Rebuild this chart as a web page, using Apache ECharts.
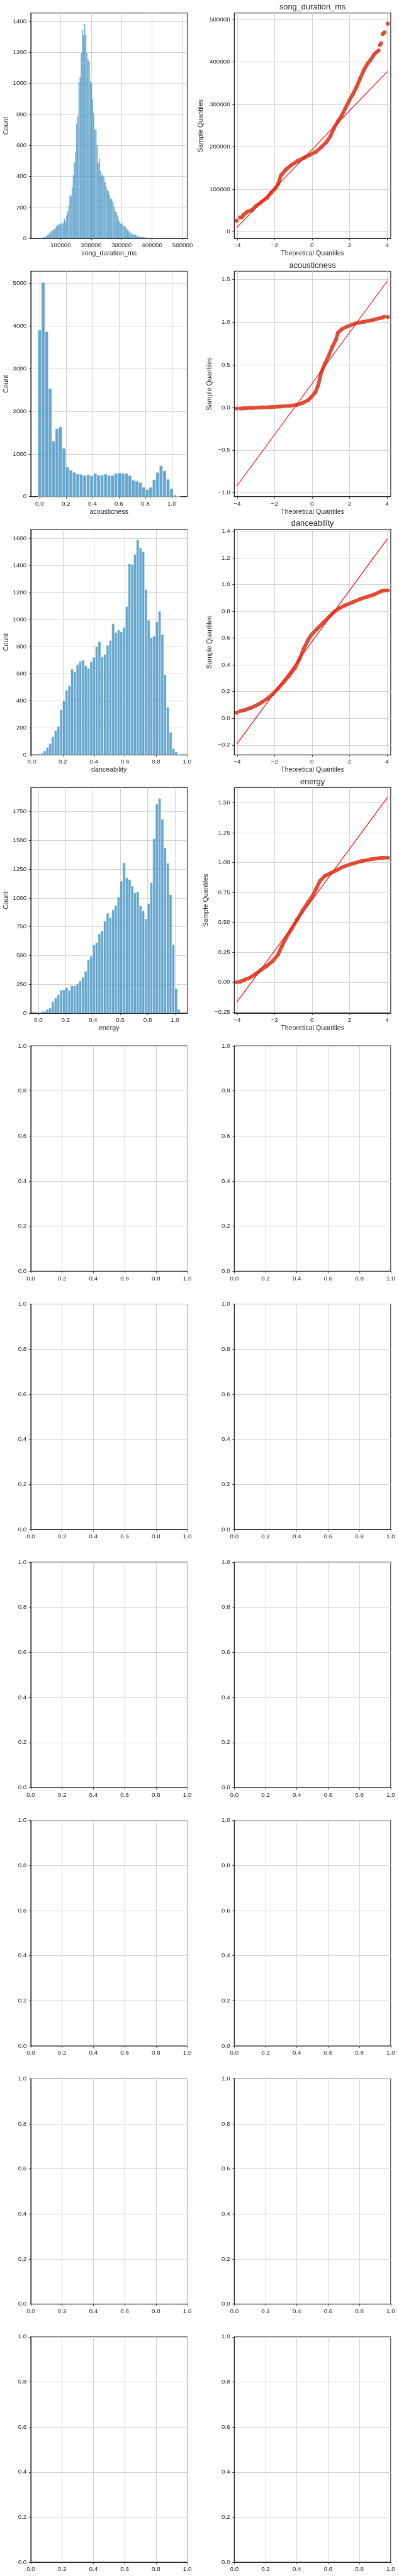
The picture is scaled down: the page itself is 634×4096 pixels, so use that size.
<!DOCTYPE html>
<html>
<head>
<meta charset="utf-8">
<script src="https://cdn.jsdelivr.net/npm/echarts@6/dist/echarts.min.js"></script>
<style>
html,body{margin:0;padding:0;background:#ffffff;}
#chart{width:634px;height:4096px;}
</style>
</head>
<body>
<div id="chart"></div>
<script>
// ---------------- DATA ----------------
const features = ['song_duration_ms', 'acousticness', 'danceability', 'energy'];

// Histogram counts and the data range covered by the bins
const songCounts = [3,2,4,5,6,8,14,11,22,27,32,45,48,58,58,68,78,85,92,92,92,105,96,128,112,150,175,212,280,272,330,410,490,560,740,790,1010,1040,1195,1345,1310,1384,1315,1195,1155,1140,1015,1000,900,810,705,700,600,485,515,435,405,413,400,365,335,313,305,280,256,256,238,205,175,168,150,120,106,94,100,88,82,75,66,55,48,40,34,28,29,22,25,19,15,12,10,12,8,10,7,5,6,4,5,3,4,2,3,2,1,2,3,1,2,1,0,1,1,0,0,1,0,1,0,0,0,1,0,0,0,1];
const songBinRange = [25000, 492000];

const acousticCounts = [3901,5018,3866,2535,1305,1594,1633,1134,696,626,569,530,521,495,517,490,543,503,503,530,495,495,543,556,543,543,495,390,363,333,219,166,219,398,569,727,604,407,188,35,9];
const acousticBinRange = [-0.0127, 1.0636];

const danceCounts = [7,11,30,55,84,134,180,209,332,399,478,510,634,615,667,692,700,659,640,688,721,800,837,725,743,810,846,970,905,924,908,942,1096,1413,1407,1482,1589,1530,1502,1223,995,868,879,984,1061,891,593,352,166,48,21,4];
const danceBinRange = [0.04, 0.955];

const energyCounts = [3,11,16,32,44,100,130,159,198,203,222,198,237,237,253,279,313,363,465,495,592,613,689,714,798,868,827,897,937,1009,1147,1307,1176,1161,1103,1044,1054,933,889,819,952,1133,1516,1816,1865,1685,1437,1302,1028,595,212,32];
const energyBinRange = [-0.003, 1.038];

// QQ plots: dense band of points + separated tail points + fitted reference line
const songBandTheo   = [-3.68,-3.62,-3.45,-3.2,-3.0,-2.7,-2.4,-2.2,-1.96,-1.81,-1.66,-1.41,-1.11,-0.76,-0.41,-0.11,0.18,0.48,0.78,0.98,1.18,1.38,1.58,1.78,1.98,2.18,2.38,2.57,2.77,2.97,3.12,3.27,3.40,3.55];
const songBandSample = [39000,41700,47500,51800,60600,70700,80400,91400,102400,113400,133100,146300,157300,167400,174900,181500,188000,199000,212200,225400,245200,260500,273700,291300,308900,324300,341800,361600,381400,396700,405000,415000,422000,427000];
const songTailTheo   = [-4.02,-3.85,-3.75,3.63,3.68,3.77,3.82,3.87,4.04];
const songTailSample = [26400,34300,34300,440000,444000,466000,468000,470000,490300];
const songFitTheo    = [-4.02, 4.02];
const songFitSample  = [10100, 377900];

const acousticBandTheo   = [-3.7,-3.6,-3.2,-2.7,-2.2,-1.71,-1.21,-0.81,-0.51,-0.21,-0.01,0.18,0.33,0.48,0.68,0.88,1.08,1.28,1.38,1.58,1.88,2.28,2.77,3.27,3.67,3.75];
const acousticBandSample = [-0.011,-0.009,-0.005,0.0,0.004,0.011,0.019,0.03,0.052,0.085,0.129,0.179,0.26,0.402,0.511,0.599,0.708,0.796,0.872,0.915,0.948,0.981,1.003,1.025,1.047,1.052];
const acousticTailTheo   = [-4.02,-3.82,3.85,4.04];
const acousticTailSample = [-0.013,-0.013,1.062,1.058];
const acousticFitTheo    = [-4.02, 4.02];
const acousticFitSample  = [-0.921, 1.480];

const danceBandTheo   = [-3.85,-3.6,-3.3,-3.0,-2.7,-2.4,-2.1,-1.81,-1.51,-1.21,-0.91,-0.66,-0.46,-0.21,-0.01,0.28,0.58,0.88,1.18,1.48,1.78,2.18,2.57,2.97,3.37,3.67,3.8];
const danceBandSample = [0.054,0.062,0.077,0.095,0.119,0.146,0.182,0.223,0.272,0.321,0.377,0.447,0.517,0.587,0.629,0.671,0.713,0.755,0.797,0.825,0.846,0.869,0.892,0.911,0.929,0.950,0.955];
const danceTailTheo   = [-4.02,3.88,4.04];
const danceTailSample = [0.042,0.957,0.957];
const danceFitTheo    = [-4.02, 4.02];
const danceFitSample  = [-0.192, 1.342];

const energyBandTheo   = [-3.85,-3.6,-3.3,-3.0,-2.7,-2.4,-2.1,-1.81,-1.61,-1.41,-1.11,-0.81,-0.51,-0.21,0.03,0.23,0.43,0.68,0.98,1.28,1.68,2.18,2.67,3.17,3.67,3.85];
const energyBandSample = [0.004,0.02,0.039,0.07,0.106,0.138,0.177,0.231,0.302,0.364,0.442,0.52,0.598,0.669,0.723,0.786,0.848,0.888,0.911,0.934,0.966,0.992,1.013,1.028,1.039,1.040];
const energyTailTheo   = [-4.02,4.04];
const energyTailSample = [0.0,1.041];
const energyFitTheo    = [-4.02, 4.02];
const energyFitSample  = [-0.167, 1.544];

// Axis ranges
const songHistXRange = [2000, 515400],   songHistYRange = [0, 1454];
const acousticHistXRange = [-0.0665, 1.1174], acousticHistYRange = [0, 5280];
const danceHistXRange = [-0.0057, 1.0008], danceHistYRange = [0, 1666];
const energyHistXRange = [-0.0546, 1.090], energyHistYRange = [0, 1959];
const qqXRange = [-4.15, 4.2];
const songQQYRange = [-15400, 515400];
const acousticQQYRange = [-1.044, 1.594];
const danceQQYRange = [-0.2727, 1.4126];
const energyQQYRange = [-0.2578, 1.6266];
const emptyRange = [0, 1];

// Tick values and tick labels
const songHistXTicks = [100000, 200000, 300000, 400000, 500000];
const songHistXLabels = ['100000', '200000', '300000', '400000', '500000'];
const songHistYTicks = [0, 200, 400, 600, 800, 1000, 1200, 1400];
const songHistYLabels = ['0', '200', '400', '600', '800', '1000', '1200', '1400'];
const unitTicks = [0, 0.2, 0.4, 0.6, 0.8, 1.0];
const unitLabels = ['0.0', '0.2', '0.4', '0.6', '0.8', '1.0'];
const acousticHistYTicks = [0, 1000, 2000, 3000, 4000, 5000];
const acousticHistYLabels = ['0', '1000', '2000', '3000', '4000', '5000'];
const danceHistYTicks = [0, 200, 400, 600, 800, 1000, 1200, 1400, 1600];
const danceHistYLabels = ['0', '200', '400', '600', '800', '1000', '1200', '1400', '1600'];
const energyHistYTicks = [0, 250, 500, 750, 1000, 1250, 1500, 1750];
const energyHistYLabels = ['0', '250', '500', '750', '1000', '1250', '1500', '1750'];
const qqXTicks = [-4, -2, 0, 2, 4];
const qqXLabels = ['\u22124', '\u22122', '0', '2', '4'];
const songQQYTicks = [0, 100000, 200000, 300000, 400000, 500000];
const songQQYLabels = ['0', '100000', '200000', '300000', '400000', '500000'];
const acousticQQYTicks = [-1.0, -0.5, 0, 0.5, 1.0, 1.5];
const acousticQQYLabels = ['\u22121.0', '\u22120.5', '0.0', '0.5', '1.0', '1.5'];
const danceQQYTicks = [-0.2, 0, 0.2, 0.4, 0.6, 0.8, 1.0, 1.2, 1.4];
const danceQQYLabels = ['\u22120.2', '0.0', '0.2', '0.4', '0.6', '0.8', '1.0', '1.2', '1.4'];
const energyQQYTicks = [-0.25, 0, 0.25, 0.5, 0.75, 1.0, 1.25, 1.5];
const energyQQYLabels = ['\u22120.25', '0.00', '0.25', '0.50', '0.75', '1.00', '1.25', '1.50'];

// ---------------- STYLE / LAYOUT ----------------
const S = 0.89;
const FONT = '"Liberation Sans", Arial, Helvetica, sans-serif';
const INK = '#262626';
const GRID_C = '#cccccc';
const BAR_FILL = 'rgba(52,138,189,0.75)';
const QQ_C = '#E24A33';
const FIT_C = '#ff0000';

const colX = [55 * S, 418.3 * S];
const colW = 279.3 * S;
const rowH = 402.7 * S;
function rowY(i) { return (23.3 + 461.3 * i) * S; }

function labelFor(ticks, labels) {
  return function (v) {
    let best = 0, bd = Infinity;
    for (let i = 0; i < ticks.length; i++) {
      const d = Math.abs(ticks[i] - v);
      if (d < bd) { bd = d; best = i; }
    }
    return labels[best];
  };
}

function axis(kind, gridIndex, range, ticks, labels, interval, extra) {
  const isX = kind === 'x';
  const a = {
    type: 'value',
    gridIndex: gridIndex,
    min: range[0],
    max: range[1],
    minInterval: interval,
    maxInterval: interval,
    splitNumber: Math.max(1, Math.round((range[1] - range[0]) / interval)),
    axisLine: { show: true, onZero: false, lineStyle: { color: INK, width: 1.25 * S } },
    axisTick: { show: true, customValues: ticks, length: 3.5 * S, lineStyle: { color: INK, width: 1 * S } },
    axisLabel: {
      show: true, customValues: ticks, formatter: labelFor(ticks, labels),
      color: INK, fontSize: 11 * S, fontFamily: FONT, margin: isX ? 6.5 : 6.7
    },
    splitLine: { show: true, lineStyle: { color: GRID_C, width: 1 * S } },
    nameTextStyle: { color: INK, fontSize: 12 * S, fontFamily: FONT },
    silent: true
  };
  return Object.assign(a, extra || {});
}

const grids = [], xAxes = [], yAxes = [], series = [], titles = [];

function addGrid(row, col) {
  grids.push({
    left: colX[col], top: rowY(row), width: colW, height: rowH,
    show: true, borderColor: INK, borderWidth: 1.25 * S, backgroundColor: 'transparent'
  });
  return grids.length - 1;
}

function histData(counts, range) {
  const w = (range[1] - range[0]) / counts.length;
  return counts.map((c, i) => [range[0] + i * w, range[0] + (i + 1) * w, c]);
}

function barRenderer(strokeW, strokeC) {
  return function (params, api) {
    const p0 = api.coord([api.value(0), 0]);
    const p1 = api.coord([api.value(1), api.value(2)]);
    return {
      type: 'rect',
      shape: { x: p0[0], y: p1[1], width: p1[0] - p0[0], height: p0[1] - p1[1] },
      style: { fill: BAR_FILL, stroke: strokeC, lineWidth: strokeW }
    };
  };
}

function zip(a, b) { return a.map((v, i) => [v, b[i]]); }

const histSpecs = [
  { counts: songCounts, bins: songBinRange, xr: songHistXRange, yr: songHistYRange,
    xt: songHistXTicks, xl: songHistXLabels, xi: 100000, yt: songHistYTicks, yl: songHistYLabels, yi: 200,
    stroke: 0.3, strokeC: 'rgba(255,255,255,0.45)' },
  { counts: acousticCounts, bins: acousticBinRange, xr: acousticHistXRange, yr: acousticHistYRange,
    xt: unitTicks, xl: unitLabels, xi: 0.2, yt: acousticHistYTicks, yl: acousticHistYLabels, yi: 1000,
    stroke: 0.9, strokeC: 'rgba(255,255,255,0.7)' },
  { counts: danceCounts, bins: danceBinRange, xr: danceHistXRange, yr: danceHistYRange,
    xt: unitTicks, xl: unitLabels, xi: 0.2, yt: danceHistYTicks, yl: danceHistYLabels, yi: 200,
    stroke: 0.8, strokeC: 'rgba(255,255,255,0.7)' },
  { counts: energyCounts, bins: energyBinRange, xr: energyHistXRange, yr: energyHistYRange,
    xt: unitTicks, xl: unitLabels, xi: 0.2, yt: energyHistYTicks, yl: energyHistYLabels, yi: 250,
    stroke: 0.8, strokeC: 'rgba(255,255,255,0.7)' }
];

const qqSpecs = [
  { bandX: songBandTheo, bandY: songBandSample, tailX: songTailTheo, tailY: songTailSample,
    fitX: songFitTheo, fitY: songFitSample, yr: songQQYRange, yt: songQQYTicks, yl: songQQYLabels, yi: 100000, gap: 47.5 },
  { bandX: acousticBandTheo, bandY: acousticBandSample, tailX: acousticTailTheo, tailY: acousticTailSample,
    fitX: acousticFitTheo, fitY: acousticFitSample, yr: acousticQQYRange, yt: acousticQQYTicks, yl: acousticQQYLabels, yi: 0.5, gap: 33.5 },
  { bandX: danceBandTheo, bandY: danceBandSample, tailX: danceTailTheo, tailY: danceTailSample,
    fitX: danceFitTheo, fitY: danceFitSample, yr: danceQQYRange, yt: danceQQYTicks, yl: danceQQYLabels, yi: 0.2, gap: 33.5 },
  { bandX: energyBandTheo, bandY: energyBandSample, tailX: energyTailTheo, tailY: energyTailSample,
    fitX: energyFitTheo, fitY: energyFitSample, yr: energyQQYRange, yt: energyQQYTicks, yl: energyQQYLabels, yi: 0.25, gap: 39.5 }
];

for (let r = 0; r < 4; r++) {
  // histogram
  const h = histSpecs[r];
  const gi = addGrid(r, 0);
  xAxes.push(axis('x', gi, h.xr, h.xt, h.xl, h.xi, { name: features[r], nameLocation: 'middle', nameGap: 18.4 }));
  yAxes.push(axis('y', gi, h.yr, h.yt, h.yl, h.yi, { name: 'Count', nameLocation: 'middle', nameGap: 33 }));
  series.push({
    type: 'custom', xAxisIndex: gi, yAxisIndex: gi,
    dimensions: ['x0', 'x1', 'count'], encode: { x: [0, 1], y: 2 },
    renderItem: barRenderer(h.stroke, h.strokeC), data: histData(h.counts, h.bins), clip: true, silent: true
  });

  // QQ plot
  const q = qqSpecs[r];
  const gj = addGrid(r, 1);
  xAxes.push(axis('x', gj, qqXRange, qqXTicks, qqXLabels, 2, { name: 'Theoretical Quantiles', nameLocation: 'middle', nameGap: 18.4 }));
  yAxes.push(axis('y', gj, q.yr, q.yt, q.yl, q.yi, { name: 'Sample Quantiles', nameLocation: 'middle', nameGap: q.gap }));
  series.push({
    type: 'line', xAxisIndex: gj, yAxisIndex: gj, data: zip(q.bandX, q.bandY),
    symbol: 'none', smooth: false, silent: true,
    lineStyle: { color: QQ_C, width: 6.4 * S, cap: 'round', join: 'round' }
  });
  series.push({
    type: 'scatter', xAxisIndex: gj, yAxisIndex: gj, data: zip(q.tailX, q.tailY).concat(zip(q.bandX, q.bandY)),
    symbol: 'circle', symbolSize: 7 * S, silent: true,
    itemStyle: { color: QQ_C, opacity: 1 }
  });
  series.push({
    type: 'line', xAxisIndex: gj, yAxisIndex: gj, data: zip(q.fitX, q.fitY),
    symbol: 'none', silent: true, lineStyle: { color: FIT_C, width: 1.3 * S }
  });
  titles.push({
    text: features[r], left: colX[1] + colW / 2, top: rowY(r) - 15.7, textAlign: 'center', padding: 0,
    textStyle: { color: INK, fontSize: 14.4 * S, fontWeight: 'normal', fontFamily: FONT }
  });
}

for (let r = 4; r < 10; r++) {
  for (let c = 0; c < 2; c++) {
    const gi = addGrid(r, c);
    xAxes.push(axis('x', gi, emptyRange, unitTicks, unitLabels, 0.2));
    yAxes.push(axis('y', gi, emptyRange, unitTicks, unitLabels, 0.2));
  }
}

const chart = echarts.init(document.getElementById('chart'), null, { renderer: 'canvas' });
chart.setOption({
  animation: false,
  backgroundColor: '#ffffff',
  textStyle: { fontFamily: FONT },
  title: titles,
  grid: grids,
  xAxis: xAxes,
  yAxis: yAxes,
  series: series
});
</script>
</body>
</html>
